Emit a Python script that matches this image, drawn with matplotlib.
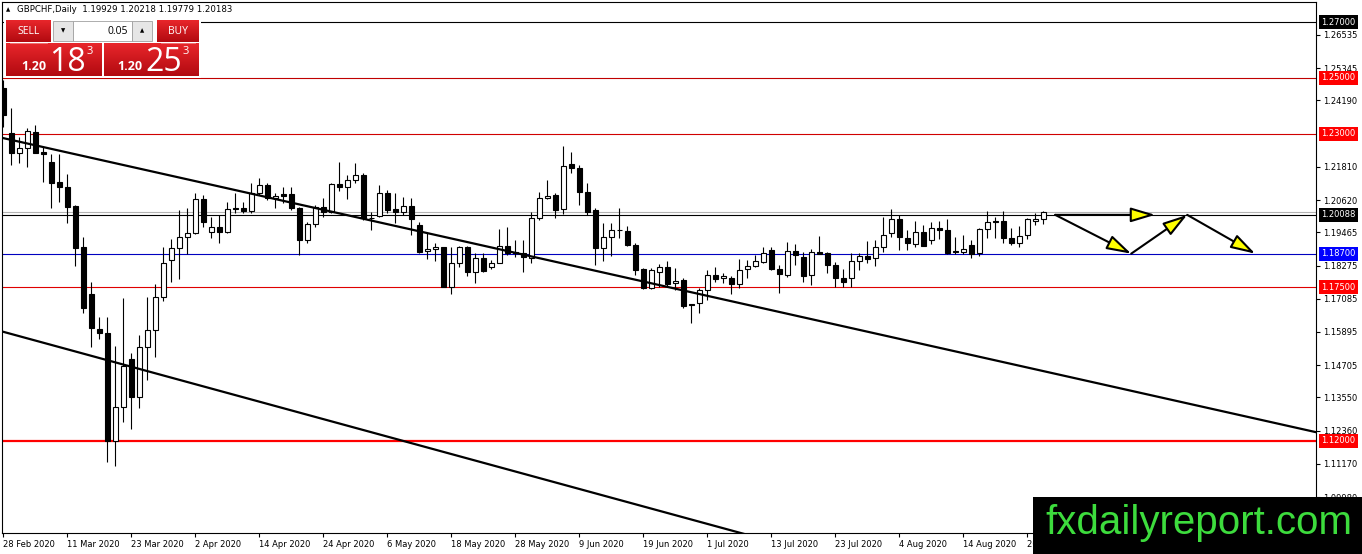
import numpy as np
import matplotlib
matplotlib.use("Agg")
import matplotlib.pyplot as plt
from matplotlib.patches import Rectangle, FancyArrowPatch
from matplotlib.transforms import blended_transform_factory
from matplotlib.colors import LinearSegmentedColormap

# ---- daily GBPCHF candles, 28 Feb 2020 .. 28 Aug 2020
opens = [1.2462, 1.2304, 1.2229, 1.2247, 1.2306, 1.2235, 1.2197, 1.2126, 1.2108, 1.2041,
         1.1893, 1.1724, 1.1600, 1.1585, 1.1200, 1.1320, 1.1492, 1.1355, 1.1535, 1.1597,
         1.1714, 1.1847, 1.1889, 1.1931, 1.1943, 1.2065, 1.1946, 1.1964, 1.1946, 1.2032,
         1.2032, 1.2024, 1.2089, 1.2116, 1.2068, 1.2084, 1.2084, 1.2032, 1.1919, 1.1976,
         1.2038, 1.2020, 1.2120, 1.2108, 1.2134, 1.2152, 1.1999, 1.2005, 1.2089, 1.2030,
         1.2020, 1.2041, 1.1974, 1.1880, 1.1886, 1.1893, 1.1752, 1.1835, 1.1893, 1.1803,
         1.1853, 1.1823, 1.1838, 1.1899, 1.1876, 1.1874, 1.1853, 1.1997, 1.2068, 1.2080,
         1.2029, 1.2191, 1.2176, 1.2092, 1.2026, 1.1889, 1.1931, 1.1955, 1.1951, 1.1901,
         1.1814, 1.1746, 1.1806, 1.1821, 1.1764, 1.1776, 1.1689, 1.1692, 1.1740, 1.1794,
         1.1782, 1.1782, 1.1760, 1.1814, 1.1826, 1.1841, 1.1883, 1.1814, 1.1794, 1.1881,
         1.1859, 1.1794, 1.1877, 1.1871, 1.1829, 1.1782, 1.1782, 1.1844, 1.1862, 1.1853,
         1.1895, 1.1945, 1.1993, 1.1927, 1.1903, 1.1946, 1.1919, 1.1961, 1.1955, 1.1878,
         1.1877, 1.1901, 1.1871, 1.1958, 1.1987, 1.1987, 1.1925, 1.1907, 1.1937, 1.1988,
         1.19929]
highs = [1.2492, 1.2391, 1.2289, 1.2319, 1.2331, 1.2251, 1.2227, 1.2227, 1.2154, 1.2044,
         1.1931, 1.1767, 1.1644, 1.1642, 1.1539, 1.1710, 1.1513, 1.1579, 1.1713, 1.1760,
         1.1895, 1.1921, 1.2026, 1.2032, 1.2086, 1.2080, 1.2003, 1.2009, 1.2056, 1.2086,
         1.2056, 1.2122, 1.2140, 1.2122, 1.2089, 1.2110, 1.2110, 1.2036, 1.1985, 1.2044,
         1.2068, 1.2122, 1.2200, 1.2152, 1.2196, 1.2158, 1.2020, 1.2116, 1.2098, 1.2086,
         1.2074, 1.2071, 1.1983, 1.1943, 1.1907, 1.1895, 1.1895, 1.1898, 1.1898, 1.1874,
         1.1871, 1.1847, 1.1957, 1.1967, 1.1919, 1.1919, 1.2020, 1.2092, 1.2134, 1.2089,
         1.2256, 1.2235, 1.2188, 1.2122, 1.2032, 1.1979, 1.1979, 1.2032, 1.1969, 1.1907,
         1.1818, 1.1818, 1.1833, 1.1845, 1.1818, 1.1782, 1.1689, 1.1746, 1.1812, 1.1821,
         1.1802, 1.1790, 1.1850, 1.1847, 1.1865, 1.1893, 1.1895, 1.1829, 1.1911, 1.1905,
         1.1877, 1.1886, 1.1933, 1.1877, 1.1841, 1.1814, 1.1871, 1.1874, 1.1917, 1.1919,
         1.2003, 1.2029, 1.2009, 1.1955, 1.1988, 1.1973, 1.1985, 1.1988, 1.1993, 1.1931,
         1.1937, 1.1919, 1.1961, 1.2024, 1.2003, 1.2024, 1.1961, 1.1969, 1.1997, 1.2017,
         1.20218]
lows = [1.2325, 1.2188, 1.2196, 1.2179, 1.2230, 1.2128, 1.2032, 1.2056, 1.1979, 1.1827,
        1.1656, 1.1537, 1.1563, 1.1125, 1.1110, 1.1268, 1.1241, 1.1316, 1.1418, 1.1499,
        1.1700, 1.1770, 1.1778, 1.1869, 1.1940, 1.1967, 1.1927, 1.1907, 1.1943, 1.2015,
        1.2017, 1.2015, 1.2080, 1.2062, 1.2032, 1.2050, 1.2026, 1.1865, 1.1907, 1.1967,
        1.2003, 1.2015, 1.2096, 1.2065, 1.2122, 1.1991, 1.1955, 1.2003, 1.2015, 1.1981,
        1.2009, 1.1937, 1.1871, 1.1850, 1.1845, 1.1750, 1.1726, 1.1823, 1.1790, 1.1766,
        1.1806, 1.1814, 1.1835, 1.1865, 1.1859, 1.1806, 1.1838, 1.1991, 1.2065, 1.1997,
        1.2012, 1.2160, 1.2044, 1.2009, 1.1829, 1.1845, 1.1862, 1.1925, 1.1898, 1.1794,
        1.1742, 1.1742, 1.1752, 1.1754, 1.1740, 1.1674, 1.1623, 1.1656, 1.1704, 1.1770,
        1.1766, 1.1726, 1.1746, 1.1782, 1.1821, 1.1835, 1.1812, 1.1728, 1.1788, 1.1830,
        1.1770, 1.1758, 1.1868, 1.1802, 1.1752, 1.1750, 1.1750, 1.1812, 1.1835, 1.1826,
        1.1877, 1.1931, 1.1883, 1.1883, 1.1895, 1.1898, 1.1905, 1.1921, 1.1869, 1.1869,
        1.1869, 1.1853, 1.1862, 1.1925, 1.1925, 1.1909, 1.1901, 1.1895, 1.1921, 1.1973,
        1.19779]
closes = [1.2367, 1.2229, 1.2247, 1.2310, 1.2232, 1.2226, 1.2124, 1.2108, 1.2038, 1.1892,
          1.1677, 1.1603, 1.1585, 1.1200, 1.1320, 1.1468, 1.1355, 1.1535, 1.1597, 1.1714,
          1.1835, 1.1889, 1.1929, 1.1943, 1.2065, 1.1985, 1.1964, 1.1946, 1.2029, 1.2029,
          1.2024, 1.2086, 1.2116, 1.2068, 1.2078, 1.2078, 1.2032, 1.1919, 1.1976, 1.2038,
          1.2020, 1.2120, 1.2108, 1.2134, 1.2152, 1.1997, 1.1997, 1.2086, 1.2027, 1.2020,
          1.2041, 1.1993, 1.1877, 1.1887, 1.1893, 1.1752, 1.1835, 1.1893, 1.1806, 1.1853,
          1.1808, 1.1838, 1.1897, 1.1871, 1.1871, 1.1859, 1.1997, 1.2068, 1.2078, 1.2026,
          1.2184, 1.2176, 1.2092, 1.2020, 1.1889, 1.1931, 1.1955, 1.1954, 1.1901, 1.1812,
          1.1746, 1.1812, 1.1821, 1.1761, 1.1772, 1.1683, 1.1685, 1.1740, 1.1794, 1.1778,
          1.1790, 1.1760, 1.1812, 1.1826, 1.1844, 1.1874, 1.1814, 1.1796, 1.1881, 1.1864,
          1.1790, 1.1877, 1.1869, 1.1829, 1.1782, 1.1770, 1.1844, 1.1862, 1.1852, 1.1895,
          1.1937, 1.1993, 1.1931, 1.1907, 1.1946, 1.1899, 1.1961, 1.1955, 1.1874, 1.1877,
          1.1886, 1.1869, 1.1957, 1.1982, 1.1982, 1.1925, 1.1907, 1.1933, 1.1993, 1.1993,
          1.20183]

date_labels = ["28 Feb 2020", "11 Mar 2020", "23 Mar 2020", "2 Apr 2020", "14 Apr 2020",
               "24 Apr 2020", "6 May 2020", "18 May 2020", "28 May 2020", "9 Jun 2020",
               "19 Jun 2020", "1 Jul 2020", "13 Jul 2020", "23 Jul 2020", "4 Aug 2020",
               "14 Aug 2020", "26 Aug 2020"]
bars_per_label = 8

price_ticks = [1.26535, 1.25345, 1.24190, 1.21810, 1.20620, 1.19465, 1.18275,
               1.17085, 1.15895, 1.14705, 1.13550, 1.12360, 1.11170, 1.09980]

# horizontal levels drawn on the chart
levels = [1.27000, 1.25000, 1.23000, 1.20088, 1.18700, 1.17500, 1.12000]
level_colors = ["black", "#c00000", "#d00000", "black", "#0000c0", "#e00000", "#ff0000"]
label_colors = ["black", "#ff0000", "#ff0000", "black", "#0000ff", "#ff0000", "#ff0000"]
level_widths = [0.8, 0.8, 0.8, 0.8, 0.8, 0.8, 1.6]
bid_price = 1.20183

# trend lines (bar index, price)
upper_x, upper_y = [0, 164], [1.2284, 1.1231]
lower_x, lower_y = [0, 100], [1.1590, 1.0808]

# projected path arrows
proj_x0 = [131.5, 131.5, 141.0, 148.0]
proj_y0 = [1.2009, 1.2009, 1.1870, 1.2009]
proj_x1 = [144.0, 141.0, 148.0, 156.5]
proj_y1 = [1.2009, 1.1870, 1.2009, 1.1870]

symbol_line = "GBPCHF,Daily  1.19929 1.20218 1.19779 1.20183"

W, H = 1362, 554
fig = plt.figure(figsize=(W / 100, H / 100), dpi=100)
fig.patch.set_facecolor("white")
ax = fig.add_axes([2 / W, 21 / H, 1314 / W, 531 / H])

o = np.array(opens); h = np.array(highs); l = np.array(lows); c = np.array(closes)
idx = np.arange(len(o))
bull = c >= o

for lv, col, lw in zip(levels, level_colors, level_widths):
    ax.axhline(lv, color=col, lw=lw, zorder=1)
ax.axhline(bid_price, color="#b4b4b4", lw=0.8, zorder=1)

ax.vlines(idx, l, h, color="black", lw=0.8, zorder=3)
body_lo = np.minimum(o, c)
body_h = np.maximum(np.abs(c - o), 0.00003)
ax.bar(idx[bull], body_h[bull], bottom=body_lo[bull], width=0.6,
       facecolor="white", edgecolor="black", lw=0.8, zorder=4)
ax.bar(idx[~bull], body_h[~bull], bottom=body_lo[~bull], width=0.6,
       facecolor="black", edgecolor="black", lw=0.8, zorder=4)

ax.plot(upper_x, upper_y, color="black", lw=1.6, zorder=5)
ax.plot(lower_x, lower_y, color="black", lw=1.6, zorder=5)

for x0, y0, x1, y1 in zip(proj_x0, proj_y0, proj_x1, proj_y1):
    arr = FancyArrowPatch((x0, y0), (x1, y1),
                          arrowstyle="-|>,head_length=1.5,head_width=0.45",
                          mutation_scale=10, lw=1.5, edgecolor="black",
                          facecolor="#ffff00", shrinkA=0, shrinkB=0,
                          zorder=6, clip_on=False)
    ax.add_patch(arr)

ax.set_xlim(-0.16, 164.1)
ax.set_ylim(1.08691, 1.27717)

ax.yaxis.tick_right()
ax.set_yticks(price_ticks)
ax.set_yticklabels([f"{v:.5f}" for v in price_ticks])
ax.tick_params(axis="y", length=3, width=0.8, labelsize=6, pad=2, colors="black")

ax.set_xticks(np.arange(len(date_labels)) * bars_per_label)
ax.set_xticklabels(date_labels, ha="left")
ax.tick_params(axis="x", length=3, width=0.8, labelsize=6, pad=2)

for s in ax.spines.values():
    s.set_color("black")
    s.set_linewidth(0.8)

tr = blended_transform_factory(ax.transAxes, ax.transData)
for lv, col in zip(levels, label_colors):
    ax.text(1.0 + 5 / 1314, lv, f"{lv:.5f}", transform=tr, ha="left", va="center",
            fontsize=6, color="white", clip_on=False, zorder=7,
            bbox=dict(boxstyle="square,pad=0.3", fc=col, ec="none"))

# ---- overlay in pixel coordinates: trading panel + watermark
ov = fig.add_axes([0, 0, 1, 1], zorder=10)
ov.set_xlim(0, W)
ov.set_ylim(H, 0)
ov.axis("off")
ov.patch.set_alpha(0)

ov.text(8, 10, "▲", fontsize=4, ha="center", va="center", color="black")
ov.text(17, 10, symbol_line, fontsize=6.2, ha="left", va="center", color="black")

red_cmap = LinearSegmentedColormap.from_list("btn", ["#e8262b", "#b20a10"])
grad = np.linspace(0, 1, 50).reshape(-1, 1)


def red_box(x0, x1, y0, y1):
    ov.imshow(grad, cmap=red_cmap, extent=[x0, x1, y1, y0], aspect="auto", zorder=11)


ov.add_patch(Rectangle((4, 19), 197, 59, fc="white", ec="none", zorder=10.5))
red_box(6, 51, 20, 42)
red_box(157, 199, 20, 42)
red_box(6, 102, 43, 76)
red_box(104, 199, 43, 76)
ov.plot([10, 47], [42.5, 42.5], color="#f08080", lw=0.6, zorder=12)
ov.plot([161, 195], [42.5, 42.5], color="#f08080", lw=0.6, zorder=12)
ov.text(28.5, 31, "SELL", fontsize=7.5, color="white", ha="center", va="center",
        family="Open Sans", zorder=12)
ov.text(178, 31, "BUY", fontsize=7.5, color="white", ha="center", va="center",
        family="Open Sans", zorder=12)

ov.add_patch(Rectangle((53, 21), 20, 20, fc="#e6e6e6", ec="#a0a0a0", lw=0.6, zorder=11))
ov.add_patch(Rectangle((73, 21), 59, 20, fc="white", ec="#a0a0a0", lw=0.6, zorder=11))
ov.add_patch(Rectangle((132, 21), 20, 20, fc="#e6e6e6", ec="#a0a0a0", lw=0.6, zorder=11))
ov.text(63, 31, "▼", fontsize=4, ha="center", va="center", color="black", zorder=12)
ov.text(142, 31, "▲", fontsize=4, ha="center", va="center", color="black", zorder=12)
ov.text(128, 31, "0.05", fontsize=7.5, ha="right", va="center", color="black",
        family="Open Sans", zorder=12)

for x_small, x_big, x_sup, big in [(21, 49, 87, "18"), (117, 145, 183, "25")]:
    ov.text(x_small, 70, "1.20", fontsize=9, fontweight="bold", color="white",
            ha="left", va="baseline", family="Open Sans", zorder=12)
    ov.text(x_big, 71, big, fontsize=23, color="white", ha="left", va="baseline",
            family="Open Sans", zorder=12)
    ov.text(x_sup, 54, "3", fontsize=8, color="white", ha="left", va="baseline",
            family="Open Sans", zorder=12)

ov.add_patch(Rectangle((1033, 497), W - 1033, H - 497, fc="black", ec="none", zorder=11))
ov.text(1199, 523, "fxdailyreport.com", fontsize=29, color="#3ddc3d", ha="center",
        va="center", family="Liberation Sans", zorder=12)

fig.savefig("out.png", dpi=100)
